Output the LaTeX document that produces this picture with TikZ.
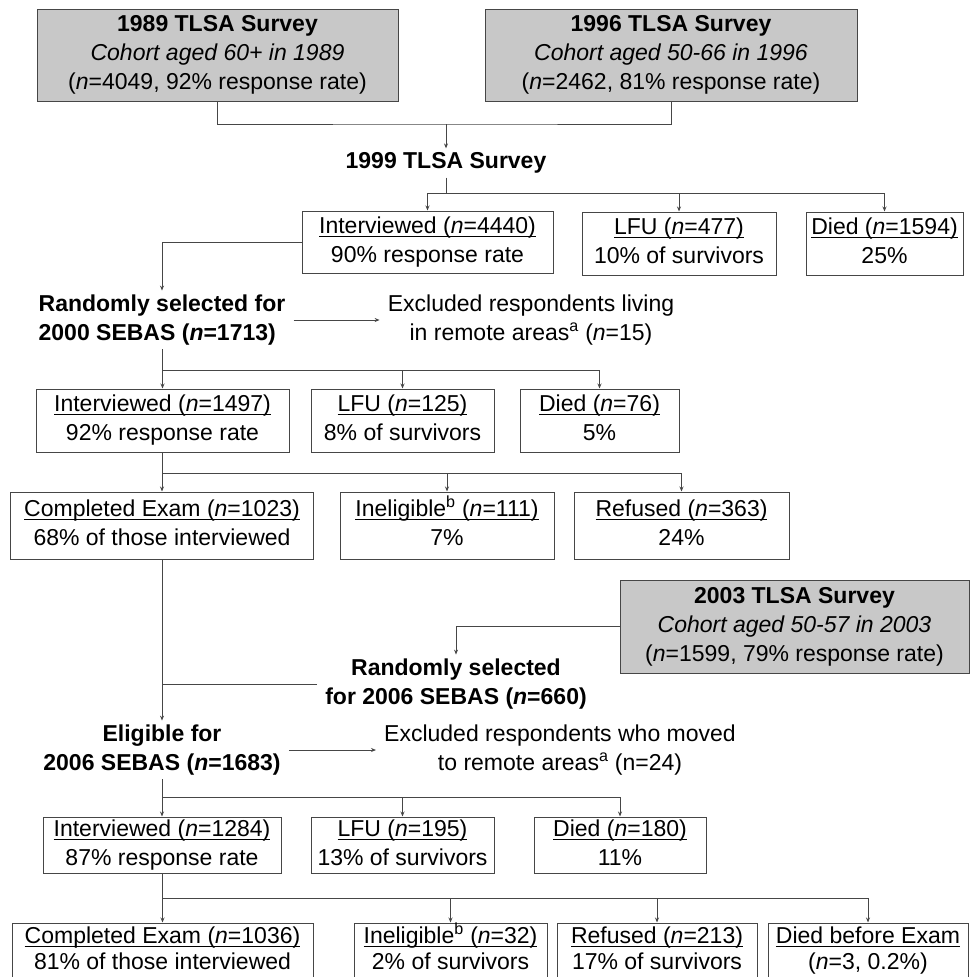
\documentclass[tikz,border=0pt]{standalone}
\usepackage{fontspec}
\setmainfont{Liberation Sans}
\usetikzlibrary{arrows.meta}
\newsavebox\ulbox
\newcommand\ulined[1]{\sbox\ulbox{#1}\leavevmode\rlap{\rule[-3.5pt]{\wd\ulbox}{0.9pt}}\usebox\ulbox}
\newcommand\supnote[1]{\textsuperscript{\smash{#1}}}
\definecolor{boxgray}{RGB}{200,200,200}
\definecolor{linegray}{RGB}{70,70,70}
\tikzset{
  box/.style={draw=linegray,line width=1pt,align=center,inner sep=0pt,
    execute at begin node=\rule{0pt}{18pt},execute at end node=\rule[-5pt]{0pt}{5pt}},
  graybox/.style={box,fill=boxgray},
  lowbox/.style={box,font=\fontsize{23}{26}\selectfont},
  txt/.style={align=center,inner xsep=8pt,inner ysep=4pt},
  link/.style={linegray,line width=1pt},
  arr/.style={link,-{Stealth[length=5pt,width=4pt]}}
}
\begin{document}
\begin{tikzpicture}[x=1pt,y=-1pt,font=\fontsize{23}{29}\selectfont]
  \useasboundingbox (0,0) rectangle (970,977);

  \node[graybox,minimum width=361pt,minimum height=92pt] (s89) at (217.5,55)
  {\textbf{1989 TLSA Survey}\\\textit{Cohort aged 60+ in 1989}\\(\textit{n}=4049, 92\% response rate)};
  \node[graybox,minimum width=372pt,minimum height=92pt] (s96) at (671,55)
  {\textbf{1996 TLSA Survey}\\\textit{Cohort aged 50-66 in 1996}\\(\textit{n}=2462, 81\% response rate)};
  \coordinate (j1) at (446,124);
  \node[txt] (s99) at (446,163) {\textbf{1999 TLSA Survey}};
  \draw[link] (s89.south) |- (j1) -| (s96.south);
  \draw[arr] (j1) -- (s99.north);

  \node[box,minimum width=251pt,minimum height=62pt] (int99) at (427.5,242)
  {\ulined{Interviewed (\textit{n}=4440)}\\90\% response rate};
  \node[box,minimum width=194pt,minimum height=63pt] (lfu99) at (679,243.5)
  {\ulined{LFU (\textit{n}=477)}\\10\% of survivors};
  \node[box,minimum width=157pt,minimum height=63pt] (died99) at (884.5,243.5)
  {\ulined{Died (\textit{n}=1594)}\\25\%};
  \coordinate (j2) at (0,193);
  \draw[link] (s99.south) -- (s99.south |- j2);
  \draw[link] (int99.north |- j2) -- (died99.north |- j2);
  \draw[arr] (int99.north |- j2) -- (int99.north);
  \draw[arr] (lfu99.north |- j2) -- (lfu99.north);
  \draw[arr] (died99.north |- j2) -- (died99.north);

  \node[txt,align=left] (sel00) at (162,320)
  {\textbf{Randomly selected for}\\\textbf{2000 SEBAS (\textit{n}=1713)}};
  \node[txt] (exc00) at (531,320)
  {Excluded respondents living\\in remote areas\supnote{a} (\textit{n}=15)};
  \draw[arr] (int99.west) -| (sel00.north);
  \draw[arr] (sel00.east) -- (exc00.west);

  \node[box,minimum width=253pt,minimum height=63pt] (int97) at (162.5,420.5)
  {\ulined{Interviewed (\textit{n}=1497)}\\92\% response rate};
  \node[box,minimum width=183pt,minimum height=63pt] (lfu97) at (402.5,420.5)
  {\ulined{LFU (\textit{n}=125)}\\8\% of survivors};
  \node[box,minimum width=159pt,minimum height=63pt] (died97) at (599.5,420.5)
  {\ulined{Died (\textit{n}=76)}\\5\%};
  \coordinate (j3) at (0,370);
  \draw[link] (sel00.south) -- (sel00.south |- j3);
  \draw[link] (int97.north |- j3) -- (died97.north |- j3);
  \draw[arr] (int97.north |- j3) -- (int97.north);
  \draw[arr] (lfu97.north |- j3) -- (lfu97.north);
  \draw[arr] (died97.north |- j3) -- (died97.north);

  \node[box,minimum width=303pt,minimum height=67pt] (comp00) at (162,525.5)
  {\ulined{Completed Exam (\textit{n}=1023)}\\68\% of those interviewed};
  \node[box,minimum width=214pt,minimum height=67pt] (inel00) at (447,525.5)
  {\ulined{Ineligible\supnote{b} (\textit{n}=111)}\\7\%};
  \node[box,minimum width=215pt,minimum height=67pt] (ref00) at (681.5,525.5)
  {\ulined{Refused (\textit{n}=363)}\\24\%};
  \coordinate (j4) at (0,473);
  \draw[link] (int97.south) -- (int97.south |- j4);
  \draw[link] (comp00.north |- j4) -- (ref00.north |- j4);
  \draw[arr] (comp00.north |- j4) -- (comp00.north);
  \draw[arr] (inel00.north |- j4) -- (inel00.north);
  \draw[arr] (ref00.north |- j4) -- (ref00.north);

  \node[graybox,minimum width=349pt,minimum height=93pt] (s03) at (794.5,626.5)
  {\textbf{2003 TLSA Survey}\\\textit{Cohort aged 50-57 in 2003}\\(\textit{n}=1599, 79\% response rate)};
  \node[txt] (sel06) at (456,684)
  {\textbf{Randomly selected}\\\textbf{for 2006 SEBAS (\textit{n}=660)}};
  \draw[arr] (s03.west) -| (sel06.north);

  \node[txt] (eli06) at (162,750)
  {\textbf{Eligible for}\\\textbf{2006 SEBAS (\textit{n}=1683)}};
  \node[txt] (exc06) at (560,750)
  {Excluded respondents who moved\\to remote areas\supnote{a} (n=24)};
  \draw[arr] (comp00.south) -- (eli06.north);
  \draw[link] (sel06.west) -- (sel06.west -| comp00.south);
  \draw[arr] (eli06.east) -- (exc06.west);

  \node[box,minimum width=238pt,minimum height=56pt] (int06) at (162,845)
  {\ulined{Interviewed (\textit{n}=1284)}\\87\% response rate};
  \node[box,minimum width=183pt,minimum height=56pt] (lfu06) at (402.5,845)
  {\ulined{LFU (\textit{n}=195)}\\13\% of survivors};
  \node[box,minimum width=172pt,minimum height=56pt] (died06) at (620,845)
  {\ulined{Died (\textit{n}=180)}\\11\%};
  \coordinate (j5) at (0,797);
  \draw[link] (eli06.south) -- (eli06.south |- j5);
  \draw[link] (int06.north |- j5) -- (died06.north |- j5);
  \draw[arr] (int06.north |- j5) -- (int06.north);
  \draw[arr] (lfu06.north |- j5) -- (lfu06.north);
  \draw[arr] (died06.north |- j5) -- (died06.north);

  \node[lowbox,minimum width=301pt,minimum height=56pt] (comp06) at (162.5,951)
  {\ulined{Completed Exam (\textit{n}=1036)}\\81\% of those interviewed};
  \node[lowbox,minimum width=193pt,minimum height=56pt] (inel06) at (450.5,951)
  {\ulined{Ineligible\supnote{b} (\textit{n}=32)}\\2\% of survivors};
  \node[lowbox,minimum width=200pt,minimum height=56pt] (ref06) at (657,951)
  {\ulined{Refused (\textit{n}=213)}\\17\% of survivors};
  \node[lowbox,minimum width=200pt,minimum height=56pt] (dbe06) at (868,951)
  {\ulined{Died before Exam}\\(\textit{n}=3, 0.2\%)};
  \coordinate (j6) at (0,898);
  \draw[link] (int06.south) -- (int06.south |- j6);
  \draw[link] (comp06.north |- j6) -- (dbe06.north |- j6);
  \draw[arr] (comp06.north |- j6) -- (comp06.north);
  \draw[arr] (inel06.north |- j6) -- (inel06.north);
  \draw[arr] (ref06.north |- j6) -- (ref06.north);
  \draw[arr] (dbe06.north |- j6) -- (dbe06.north);
\end{tikzpicture}
\end{document}
